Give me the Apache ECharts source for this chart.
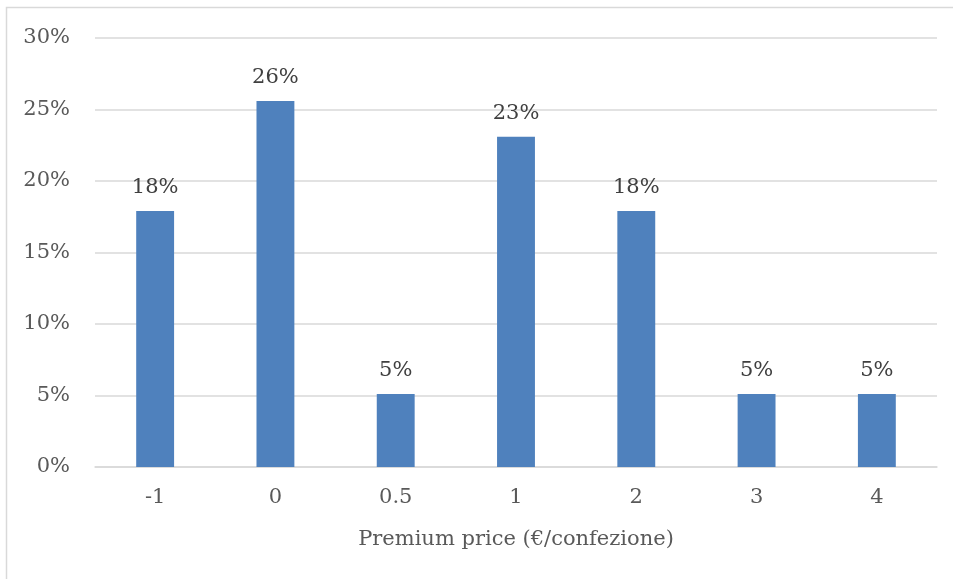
<!DOCTYPE html>
<html lang="en">
<head>
    <meta charset="UTF-8">
    <title>Premium price</title>
    <script src="https://cdn.jsdelivr.net/npm/echarts@6/dist/echarts.min.js"></script>
    <style>
        html, body { margin: 0; padding: 0; background: #fff; overflow: hidden; }
    </style>
</head>
<body>
<div id="chart" style="width: 953px; height: 579px;"></div>

<script type="text/javascript">
    // dati
    var categories = ['-1', '0', '0.5', '1', '2', '3', '4'];
    var shares = [17.9, 25.6, 5.1, 23.1, 17.9, 5.1, 5.1];   // percentuali
    var yTicks = [0, 5, 10, 15, 20, 25, 30];

    var textColor = '#595959';
    var fontFamily = '"DejaVu Serif", serif';

    var myChart = echarts.init(document.getElementById('chart'));

    var option = {
        animation: false,
        backgroundColor: '#fff',
        // bordo del riquadro (sinistra e alto; destra e basso fuori dall'immagine)
        graphic: [{
            type: 'polyline',
            shape: { points: [[6.5, 579], [6.5, 7.5], [953, 7.5]] },
            style: { fill: null, stroke: '#d9d9d9', lineWidth: 1.5 }
        }],
        grid: {
            left: 95,
            right: 16,
            top: 38,
            bottom: 112
        },
        xAxis: {
            type: 'category',
            data: categories,
            name: 'Premium price (€/confezione)',
            nameLocation: 'middle',
            nameGap: 62,
            nameTextStyle: { color: textColor, fontSize: 21, fontFamily: fontFamily },
            axisLine: { lineStyle: { color: '#d9d9d9', width: 1.5 } },
            axisTick: { show: false },
            axisLabel: { color: textColor, fontSize: 21, fontFamily: fontFamily, margin: 20 }
        },
        yAxis: {
            type: 'value',
            min: yTicks[0],
            max: yTicks[yTicks.length - 1],
            interval: 5,
            axisLine: { show: false },
            axisTick: { show: false },
            splitLine: { lineStyle: { color: '#d9d9d9', width: 1.5 } },
            axisLabel: {
                color: textColor,
                fontSize: 21,
                fontFamily: fontFamily,
                margin: 25,
                formatter: '{value}%'
            }
        },
        series: [{
            type: 'bar',
            data: shares,
            barWidth: '31.5%',
            itemStyle: { color: '#4f81bd' },
            label: {
                show: true,
                position: 'top',
                distance: 13,
                color: '#404040',
                fontSize: 21,
                fontFamily: fontFamily,
                formatter: function (p) { return Math.round(p.value) + '%'; }
            }
        }]
    };

    myChart.setOption(option);
</script>
</body>
</html>
